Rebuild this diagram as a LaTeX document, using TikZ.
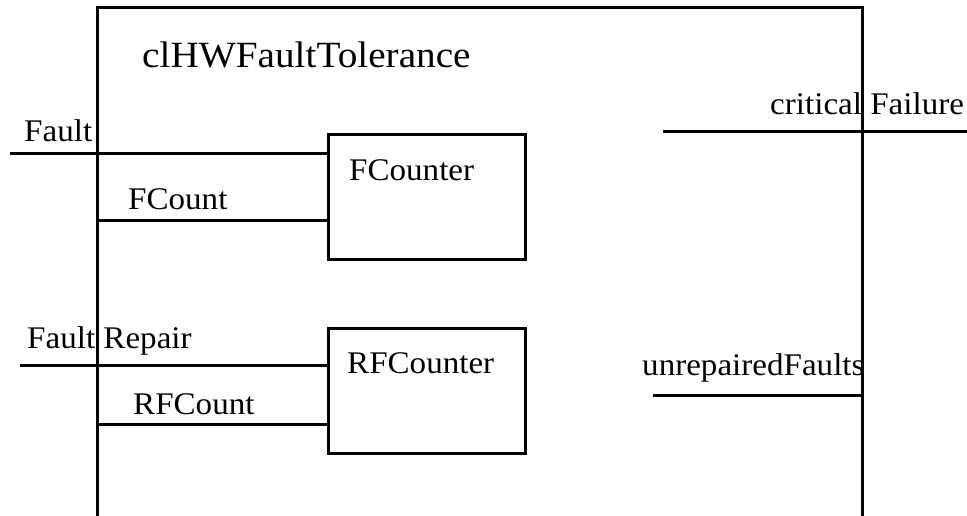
\documentclass[tikz,border=0pt]{standalone}
\usepackage{fontspec}
\setmainfont{Liberation Serif}
\begin{document}
\begin{tikzpicture}[x=1pt,y=-1pt,
  wire/.style={line width=3pt},
  blockbox/.style={draw,line width=3pt,inner sep=0pt,anchor=north west},
  lbl/.style={inner sep=0pt,anchor=base west,font=\fontsize{31.5}{36}\selectfont,xscale=1.05,transform shape},
  ttl/.style={inner sep=0pt,anchor=base west,font=\fontsize{37}{42}\selectfont,xscale=1.06,transform shape}]
\useasboundingbox (0,0) rectangle (967,516);
% outer frame (open at the bottom)
\coordinate (frameBL) at (97,518);
\coordinate (frameTL) at (97,8);
\coordinate (frameTR) at (862.5,8);
\coordinate (frameBR) at (862.5,518);
\draw[wire,line join=miter] (frameBL) -- (frameTL) -- (frameTR) -- (frameBR);
% inner blocks
\node[blockbox,minimum width=197pt,minimum height=125pt] (fc) at (327,133) {};
\node[blockbox,minimum width=197pt,minimum height=125pt] (rfc) at (327,327) {};
% texts
\node[ttl] (title) at (142,68) {clHWFaultTolerance};
\node[lbl] (fcname) at (349,181) {FCounter};
\node[lbl] (rfcname) at (347,373) {RFCounter};
\node[lbl] (faultlbl) at (24,142) {Fault};
\node[lbl] (fcountlbl) at (128,210) {FCount};
\node[lbl] (frlbl) at (27,348) {Fault Repair};
\node[lbl] (rfcountlbl) at (133,414) {RFCount};
\node[lbl] (cflbl) at (770,115) {critical Failure};
\node[lbl] (uflbl) at (642,375) {unrepairedFaults};
% connectors
\coordinate (faultin) at (10,154);
\coordinate (fcountin) at (97,220);
\coordinate (frin) at (20,365);
\coordinate (rfcountin) at (97,424);
\coordinate (cfstart) at (663,132);
\coordinate (cfend) at (967,132);
\coordinate (ufstart) at (653,395);
\coordinate (ufend) at (862.5,395);
\draw[wire] (faultin) -- (faultin -| fc.west);
\draw[wire] (fcountin) -- (fcountin -| fc.west);
\draw[wire] (frin) -- (frin -| rfc.west);
\draw[wire] (rfcountin) -- (rfcountin -| rfc.west);
\draw[wire] (cfstart) -- (cfend);
\draw[wire] (ufstart) -- (ufend);
\end{tikzpicture}
\end{document}
